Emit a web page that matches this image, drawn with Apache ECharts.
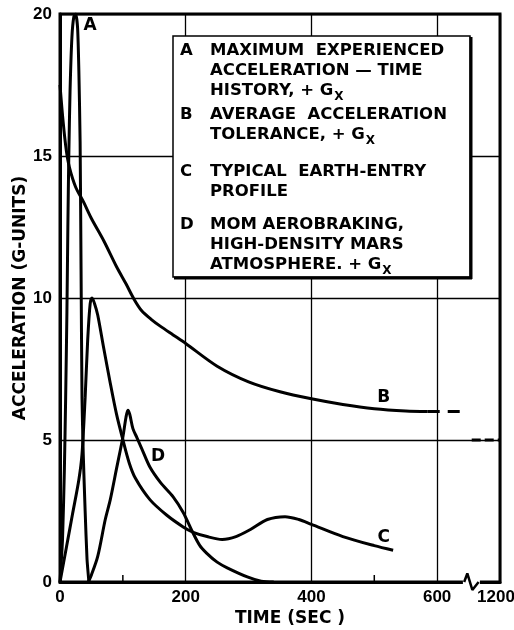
<!DOCTYPE html>
<html><head><meta charset="utf-8">
<script src="https://cdn.jsdelivr.net/npm/echarts@6/dist/echarts.min.js"></script>
<style>html,body{margin:0;padding:0;background:#fff}#c{width:514px;height:630px}</style>
</head><body><div id="c"></div>
<script>
// ---- data (time in seconds, acceleration in G) ----
const curveA = [[0,0],[4,1.5],[7,4],[9,6.5],[11,9.5],[12.5,12.5],[14,15],[16,17.3],[19,19.2],[22,19.9],[25,20],[28,19.5],[30,18],[32,15.5],[33.5,11],[35,6.5],[37,4.5],[40,2.5],[43,0.8],[46,0]];
const curveB = [[0,17.5],[5,16.2],[10,15.2],[15,14.6],[25,13.9],[37,13.4],[50,12.8],[70,12],[90,11.1],[105,10.5],[118,9.95],[130,9.55],[145,9.25],[160,9.0],[180,8.7],[200,8.4],[250,7.6],[300,7.05],[350,6.7],[400,6.45],[450,6.25],[500,6.1],[550,6.02],[585,6.0]];
const curveBExtension = [[585,6.0],[640,6.0]];
const curveBAsymptote = [[655,5],[700,5]];
const curveC = [[0,0],[10,1.2],[20,2.4],[30,3.6],[35,4.5],[40,6.5],[44,8.5],[48,9.8],[51,10],[55,9.8],[60,9.4],[69,8.3],[80,7.0],[90,5.9],[99,5.1],[110,4.2],[120,3.65],[143,2.9],[170,2.35],[196,1.94],[212,1.75],[234,1.6],[258,1.5],[280,1.6],[303,1.85],[330,2.2],[358,2.3],[380,2.2],[400,2.03],[450,1.6],[500,1.28],[530,1.12]];
const curveD = [[45,0],[50,0.25],[60,0.9],[72,2.2],[80,2.9],[90,4.0],[100,5.1],[105,5.8],[108,6.05],[111,5.9],[116,5.4],[122,5.1],[130,4.7],[143,4.05],[160,3.5],[180,3.0],[196,2.45],[210,1.8],[222,1.3],[234,1.0],[250,0.7],[266,0.5],[298,0.18],[320,0.03],[340,0]];
const curveLabels = [['A',48,19.6],['B',515,6.5],['C',515,1.55],['D',156,4.4]];
const xTickLabels = {0:'0',200:'200',400:'400',600:'600',700:'1200'};
const minorTicks = [100,500];
const breakMark = [[643,0],[648,0.3],[656,-0.28],[666,0]];
const breakGap = [[641,0],[668,0]];
const legendEntries = [
  {key:'A', lines:['MAXIMUM  EXPERIENCED','ACCELERATION — TIME','HISTORY, + G'], sub:'X'},
  {key:'B', lines:['AVERAGE  ACCELERATION','TOLERANCE, + G'], sub:'X'},
  {key:'C', lines:['TYPICAL  EARTH-ENTRY','PROFILE'], sub:''},
  {key:'D', lines:['MOM AEROBRAKING,','HIGH-DENSITY MARS','ATMOSPHERE. + G'], sub:'X'}
];
const yAxisTitle = 'ACCELERATION (G-UNITS)';
const xAxisTitle = 'TIME (SEC )';

// ---- chart ----
const chart = echarts.init(document.getElementById('c'), null, {renderer:'canvas'});
const NARROW = "'Liberation Sans Narrow','Liberation Sans',sans-serif";
const BOLD = "'DejaVu Sans',sans-serif";
const legendFont = 'bold 16.5px ' + BOLD;
const subFont = 'bold 12px ' + BOLD;

function curve(data, extra){
  return Object.assign({type:'line', data, showSymbol:false, symbol:'none', smooth:0.3,
    lineStyle:{color:'#000', width:3}, silent:true, z:3}, extra||{});
}

// legend graphic
const groupTops = [51, 115, 172, 225];
const lineStep = 20;
const legendEls = [
  {type:'rect', shape:{x:173,y:36,width:297,height:241}, style:{fill:'#fff',stroke:'#000',lineWidth:1.5}, z:10},
  {type:'line', shape:{x1:471,y1:37,x2:471,y2:279}, style:{stroke:'#000',lineWidth:3}, z:11},
  {type:'line', shape:{x1:174,y1:278,x2:472,y2:278}, style:{stroke:'#000',lineWidth:3}, z:11}
];
legendEntries.forEach((e, gi) => {
  const top = groupTops[gi];
  legendEls.push({type:'text', x:180, y:top, style:{text:e.key, font:legendFont, fill:'#000', verticalAlign:'middle'}, z:12});
  e.lines.forEach((ln, li) => {
    const y = top + li*lineStep;
    legendEls.push({type:'text', x:210, y:y, style:{text:ln, font:legendFont, fill:'#000', verticalAlign:'middle'}, z:12});
    if (li === e.lines.length-1 && e.sub) {
      const t = new echarts.graphic.Text({style:{text:ln, font:legendFont}});
      const w = t.getBoundingRect().width;
      legendEls.push({type:'text', x:210+w+1, y:y+6, style:{text:e.sub, font:subFont, fill:'#000', verticalAlign:'middle'}, z:12});
    }
  });
});

const option = {
  animation:false,
  backgroundColor:'#fff',
  grid:{left:60, right:14, top:14, bottom:48, outerBoundsMode:'none', containLabel:false,
    show:true, borderColor:'#000', borderWidth:3, backgroundColor:'transparent'},
  xAxis:{type:'value', min:0, max:700, interval:200,
    name:xAxisTitle, nameLocation:'middle', nameGap:28, nameMoveOverlap:false,
    nameTextStyle:{fontFamily:BOLD, fontWeight:'bold', fontSize:17, color:'#000', padding:[0,0,0,20]},
    axisLine:{show:true, lineStyle:{color:'#000', width:3}},
    axisTick:{show:false},
    axisLabel:{color:'#000', fontFamily:NARROW, fontWeight:'bold', fontSize:17, margin:7,
      formatter:v => (v === 700 ? '{r|' + xTickLabels[v] + '}' : (xTickLabels[v] !== undefined ? xTickLabels[v] : '')),
      rich:{r:{fontFamily:NARROW, fontWeight:'bold', fontSize:17, color:'#000', padding:[0,8,0,0]}}},
    splitLine:{show:true, lineStyle:{color:'#000', width:1.3}}
  },
  yAxis:{type:'value', min:0, max:20, interval:5,
    name:yAxisTitle, nameLocation:'middle', nameGap:31, nameMoveOverlap:false,
    nameTextStyle:{fontFamily:BOLD, fontWeight:'bold', fontSize:17, color:'#000'},
    axisLine:{show:true, lineStyle:{color:'#000', width:3}},
    axisTick:{show:false},
    axisLabel:{color:'#000', fontFamily:NARROW, fontWeight:'bold', fontSize:17, margin:8},
    splitLine:{show:true, lineStyle:{color:'#000', width:1.3}}
  },
  series:[
    curve(curveA, {smooth:0.2}),
    curve(curveB),
    curve(curveBExtension, {smooth:false, lineStyle:{color:'#000', width:3, type:[12,8]}}),
    curve(curveBAsymptote, {smooth:false, lineStyle:{color:'#000', width:3, type:[9,4]}}),
    curve(curveC),
    curve(curveD),
    {type:'line', data:breakGap, symbol:'none', clip:false, silent:true, z:4, lineStyle:{color:'#fff', width:6}},
    {type:'line', data:breakMark, symbol:'none', clip:false, silent:true, z:5, lineStyle:{color:'#000', width:2.5}},
    {type:'custom', data:minorTicks.map(v=>[v,0]), silent:true, z:5, clip:false,
      renderItem:(params, api) => {
        const p = api.coord([api.value(0), 0]);
        return {type:'line', shape:{x1:p[0], y1:p[1], x2:p[0], y2:p[1]-7}, style:{stroke:'#000', lineWidth:1.5}};
      }},
    {type:'custom', data:curveLabels.map(d=>[d[1], d[2]]), silent:true, z:6, clip:false,
      renderItem:(params, api) => {
        const p = api.coord([api.value(0), api.value(1)]);
        return {type:'text', x:p[0], y:p[1], style:{text:curveLabels[params.dataIndex][0], font:'bold 17px '+BOLD, fill:'#000', align:'center', verticalAlign:'middle'}};
      }}
  ],
  graphic:legendEls
};
chart.setOption(option);
</script>
</body></html>
